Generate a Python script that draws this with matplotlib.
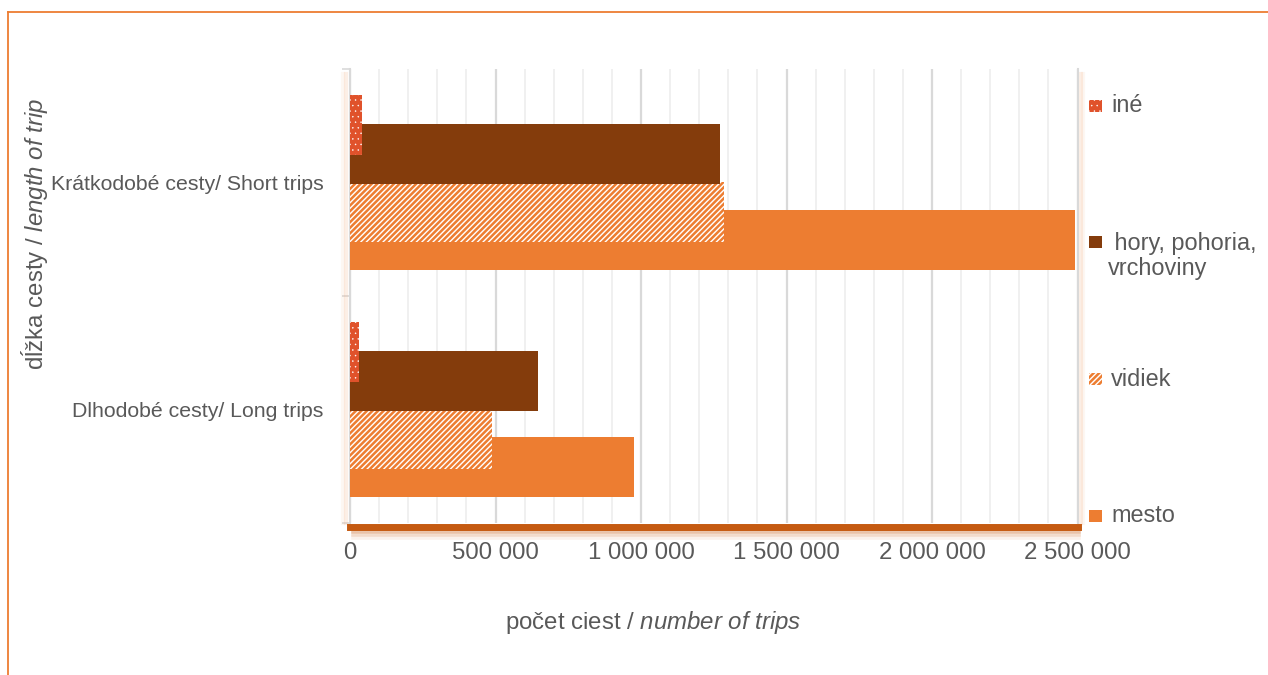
import matplotlib
matplotlib.use('Agg')
import matplotlib.pyplot as plt
from matplotlib.patches import Rectangle
from matplotlib.lines import Line2D

plt.rcParams['font.family'] = ['Liberation Sans', 'DejaVu Sans']
plt.rcParams['mathtext.fontset'] = 'custom'
plt.rcParams['mathtext.rm'] = 'Liberation Sans'
plt.rcParams['mathtext.it'] = 'Liberation Sans:italic'
plt.rcParams['hatch.linewidth'] = 1.8

# data
categories = ['Krátkodobé cesty/ Short trips', 'Dlhodobé cesty/ Long trips']
series = ['mesto', 'vidiek', 'hory, pohoria,\nvrchoviny', 'iné']
mesto = [2491000, 977000]
vidiek = [1286000, 487000]
hory = [1271000, 647000]
ine = [40000, 31000]
x_ticks = [0, 500000, 1000000, 1500000, 2000000, 2500000]

W, H = 1268, 675
fig = plt.figure(figsize=(W / 100, H / 100), dpi=100)
ax = fig.add_axes([350 / W, 1 - 523 / H, 727.5 / W, 454 / H])

txt = '#595959'
styles = [
    dict(values=mesto, off=0.253, fc='#ED7D31', ec='#ED7D31', hatch=None, hlw=1.8),
    dict(values=vidiek, off=0.128, fc='white', ec='#ED7D31', hatch='//////', hlw=1.8),
    dict(values=hory, off=-0.126, fc='#843C0C', ec='#843C0C', hatch=None, hlw=1.8),
    dict(values=ine, off=-0.253, fc='#E0522B', ec='white', hatch='...', hlw=0.3),
]
h = 0.264
pos = list(range(len(categories)))
for z, s in enumerate(styles):
    with plt.rc_context({'hatch.linewidth': s['hlw']}):
        ax.barh([p + s['off'] for p in pos], s['values'], height=h, color=s['fc'],
                edgecolor=s['ec'], hatch=s['hatch'], linewidth=0, zorder=3 + z)

ax.set_xlim(0, 2500000)
ax.set_ylim(1.5, -0.5)
ax.set_xticks(x_ticks)
ax.set_xticklabels([f'{v:,.0f}'.replace(',', ' ') for v in x_ticks])
ax.set_xticks(range(0, 2500001, 100000), minor=True)
ax.tick_params(axis='x', which='both', length=0, pad=11, labelsize=17.3, labelcolor=txt)
ax.set_yticks(pos)
ax.set_yticklabels(categories)
ax.set_yticks([-0.5, 0.5, 1.5], minor=True)
ax.tick_params(axis='y', which='major', length=0, pad=19, labelsize=15.3, labelcolor=txt)
ax.tick_params(axis='y', which='minor', length=6, color='#D9D9D9', width=1.2)
ax.grid(axis='x', which='minor', color='#EFEFEF', linewidth=1.3)
ax.grid(axis='x', which='major', color='#D9D9D9', linewidth=1.6)
ax.set_axisbelow(True)

ax.spines['top'].set_visible(False)
ax.spines['left'].set_color('#D9D9D9')
ax.spines['left'].set_linewidth(1.5)
ax.spines['right'].set_color('#D9D9D9')
ax.spines['right'].set_linewidth(1.5)
ax.spines['bottom'].set_color('#C55A11')
ax.spines['bottom'].set_linewidth(5)
ax.spines['bottom'].set_position(('outward', 3))

# soft shadows around the plot area
for k, a in enumerate([0.25, 0.15, 0.08]):
    ax.add_line(Line2D([0.005, 1.0], [-0.018 - 0.006 * k] * 2, transform=ax.transAxes,
                       color='#C55A11', alpha=a, lw=4, clip_on=False, zorder=1))
for k, a in enumerate([0.2, 0.1]):
    ax.add_line(Line2D([-0.006 - 0.003 * k] * 2, [0.0, 0.99], transform=ax.transAxes,
                       color='#F4B183', alpha=a, lw=3, clip_on=False, zorder=1))
    ax.add_line(Line2D([1.005 + 0.003 * k] * 2, [0.0, 0.99], transform=ax.transAxes,
                       color='#F4B183', alpha=a, lw=3, clip_on=False, zorder=1))

# axis titles
fig.text(35 / W, 1 - 234 / H, r'dĺžka cesty / $\mathit{length\ of\ trip}$', rotation=90,
         fontsize=17.3, color=txt, ha='center', va='center')
fig.text(653 / W, 1 - 622 / H, r'počet ciest / $\mathit{number\ of\ trips}$',
         fontsize=17.3, color=txt, ha='center', va='center')

# legend
legend_rows = [('iné', 3, 106), ('hory, pohoria,\nvrchoviny', 2, 242),
               ('vidiek', 1, 379), ('mesto', 0, 516)]
for label, i, yc in legend_rows:
    s = styles[i]
    with plt.rc_context({'hatch.linewidth': s['hlw']}):
        fig.patches.append(Rectangle((1089 / W, 1 - (yc + 6) / H), 13 / W, 12 / H,
                                     transform=fig.transFigure, facecolor=s['fc'],
                                     edgecolor=s['ec'], hatch=s['hatch'], linewidth=0))
    if '\n' in label:
        fig.text(1108 / W, 1 - 256 / H, ' ' + label, fontsize=16.9, color=txt,
                 ha='left', va='center', linespacing=1.1)
    else:
        fig.text(1111 / W, 1 - yc / H, label, fontsize=16.9, color=txt,
                 ha='left', va='center')

# outer frame
fig.add_artist(Line2D([8 / W, 1], [1 - 12 / H] * 2, transform=fig.transFigure,
                      color='#ED7D31', lw=1.3))
fig.add_artist(Line2D([8 / W] * 2, [0, 1 - 12 / H], transform=fig.transFigure,
                      color='#ED7D31', lw=1.3))

fig.savefig('out.png', dpi=100)
